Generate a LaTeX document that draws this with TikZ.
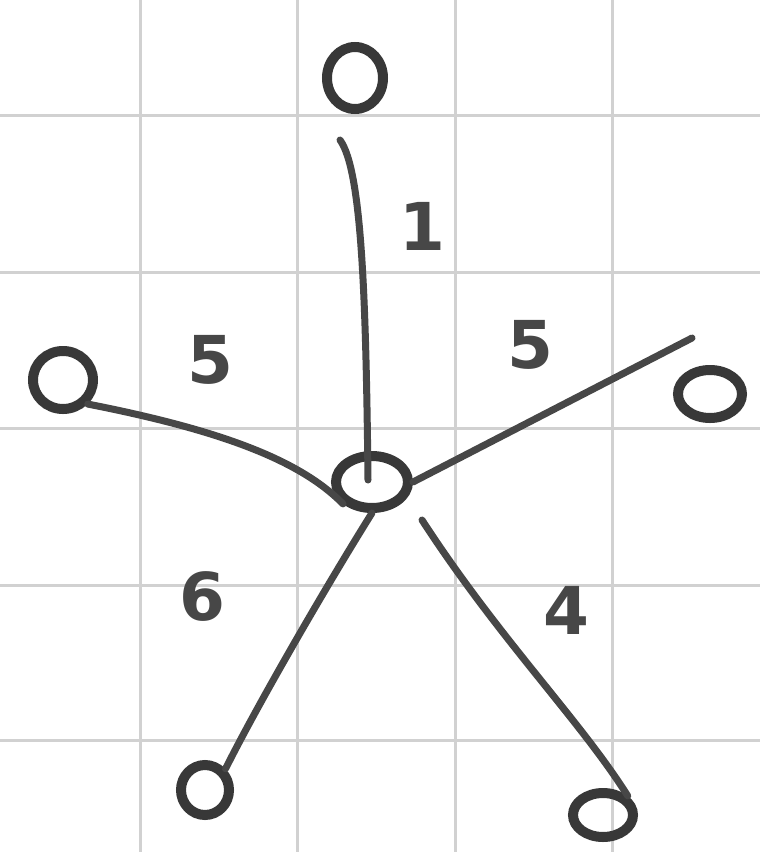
\documentclass[tikz,border=0pt]{standalone}
\usepackage{fontspec}
\setmainfont{DejaVu Sans}
\usetikzlibrary{shapes.geometric}
\begin{document}
\begin{tikzpicture}[x=1pt,y=-1pt,
  gridline/.style={draw=black!18,line width=3pt},
  vert/.style={draw=black!78,line width=10pt,ellipse,inner sep=0pt},
  edge/.style={draw=black!72,line width=7pt,line cap=round},
  lbl/.style={text=black!72,font=\bfseries\fontsize{66}{66}\selectfont}]
\useasboundingbox (0,0) rectangle (760,852);
\fill[white] (0,0) rectangle (760,852);
\foreach \x in {140,297,455,612} \draw[gridline] (\x,0) -- (\x,852);
\foreach \y in {115,272,428,585,740} \draw[gridline] (0,\y) -- (760,\y);
\node[vert,minimum width=56pt,minimum height=62pt] (t) at (355,78) {};
\node[vert,minimum width=72pt,minimum height=52pt] (c) at (372,482) {};
\node[vert,minimum width=60pt,minimum height=58pt] (l) at (63,380) {};
\node[vert,minimum width=64pt,minimum height=48pt] (r) at (710,394) {};
\node[vert,minimum width=48pt,minimum height=50pt] (bl) at (205,790) {};
\node[vert,minimum width=60pt,minimum height=44pt] (br) at (603,815) {};
\coordinate (ct) at (368,480);
\draw[edge] (340,140) .. controls (362,170) and (366,300) .. (ct);
\draw[edge] (l.south east) .. controls (220,430) and (300,460) .. (c.south west);
\draw[edge] (692,338) -- (c.east);
\draw[edge] (c.south) .. controls (330,580) and (260,700) .. (bl.north east);
\draw[edge] (422,520) .. controls (500,640) and (580,720) .. (br.north east);
\node[lbl] (w1) at (422,226) {1};
\node[lbl] (w2) at (530,345) {5};
\node[lbl] (w3) at (210,360) {5};
\node[lbl] (w4) at (202,596) {6};
\node[lbl] (w5) at (566,610) {4};
\end{tikzpicture}
\end{document}
